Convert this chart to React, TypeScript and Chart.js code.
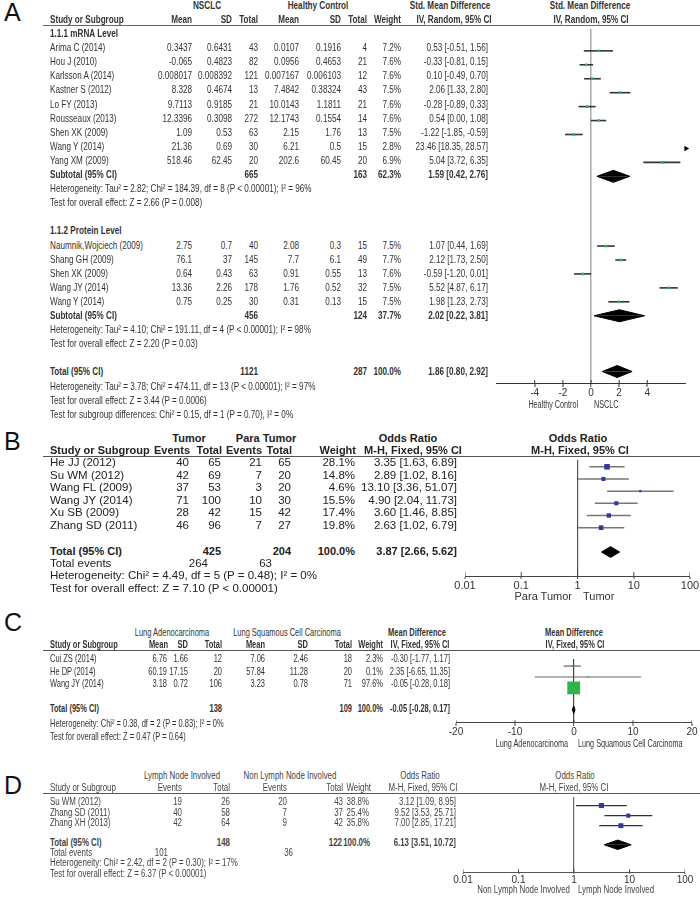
import React, { useEffect, useRef } from 'react';
import { Chart, registerables } from 'chart.js';

Chart.register(...registerables);

const FONT = '"Liberation Sans", Arial, Helvetica, sans-serif';

/* ================= Panel A data ================= */
const aMrnaStudy = ['Arima C (2014)', 'Hou J (2010)', 'Karlsson A (2014)', 'Kastner S (2012)', 'Lo FY (2013)', 'Rousseaux (2013)', 'Shen XK (2009)', 'Wang Y (2014)', 'Yang XM (2009)'];
const aMrnaCaseMean = ['0.3437', '-0.065', '0.008017', '8.328', '9.7113', '12.3396', '1.09', '21.36', '518.46'];
const aMrnaCaseSD = ['0.6431', '0.4823', '0.008392', '0.4674', '0.9185', '0.3098', '0.53', '0.69', '62.45'];
const aMrnaCaseN = [43, 82, 121, 13, 21, 272, 63, 30, 20];
const aMrnaCtrlMean = ['0.0107', '0.0956', '0.007167', '7.4842', '10.0143', '12.1743', '2.15', '6.21', '202.6'];
const aMrnaCtrlSD = ['0.1916', '0.4653', '0.006103', '0.38324', '1.1811', '0.1554', '1.76', '0.5', '60.45'];
const aMrnaCtrlN = [4, 21, 12, 43, 21, 14, 13, 15, 20];
const aMrnaWeight = [7.2, 7.6, 7.6, 7.5, 7.6, 7.6, 7.5, 2.8, 6.9];
const aMrnaSMD = [0.53, -0.33, 0.10, 2.06, -0.28, 0.54, -1.22, 23.46, 5.04];
const aMrnaLo = [-0.51, -0.81, -0.49, 1.33, -0.89, 0.00, -1.85, 18.35, 3.72];
const aMrnaHi = [1.56, 0.15, 0.70, 2.80, 0.33, 1.08, -0.59, 28.57, 6.35];

const aProtStudy = ['Naumnik,Wojciech (2009)', 'Shang GH (2009)', 'Shen XK (2009)', 'Wang JY (2014)', 'Wang Y (2014)'];
const aProtCaseMean = ['2.75', '76.1', '0.64', '13.36', '0.75'];
const aProtCaseSD = ['0.7', '37', '0.43', '2.26', '0.25'];
const aProtCaseN = [40, 145, 63, 178, 30];
const aProtCtrlMean = ['2.08', '7.7', '0.91', '1.76', '0.31'];
const aProtCtrlSD = ['0.3', '6.1', '0.55', '0.52', '0.13'];
const aProtCtrlN = [15, 49, 13, 32, 15];
const aProtWeight = [7.5, 7.7, 7.6, 7.5, 7.5];
const aProtSMD = [1.07, 2.12, -0.59, 5.52, 1.98];
const aProtLo = [0.44, 1.73, -1.20, 4.87, 1.23];
const aProtHi = [1.69, 2.50, 0.01, 6.17, 2.73];

const aSumLabel = ['Subtotal (95% CI)', 'Subtotal (95% CI)', 'Total (95% CI)'];
const aSumCaseN = [665, 456, 1121];
const aSumCtrlN = [163, 124, 287];
const aSumWeight = [62.3, 37.7, 100.0];
const aSumSMD = [1.59, 2.02, 1.86];
const aSumLo = [0.42, 0.22, 0.80];
const aSumHi = [2.76, 3.81, 2.92];
const aGroups = ['1.1.1 mRNA Level', '1.1.2 Protein Level'];
const aNotes = [
  'Heterogeneity: Tau² = 2.82; Chi² = 184.39, df = 8 (P < 0.00001); I² = 96%',
  'Test for overall effect: Z = 2.66 (P = 0.008)',
  'Heterogeneity: Tau² = 4.10; Chi² = 191.11, df = 4 (P < 0.00001); I² = 98%',
  'Test for overall effect: Z = 2.20 (P = 0.03)',
  'Heterogeneity: Tau² = 3.78; Chi² = 474.11, df = 13 (P < 0.00001); I² = 97%',
  'Test for overall effect: Z = 3.44 (P = 0.0006)',
  'Test for subgroup differences: Chi² = 0.15, df = 1 (P = 0.70), I² = 0%',
];
const aTickValues = [-4, -2, 0, 2, 4];
const aTickLabels = ['-4', '-2', '0', '2', '4'];

/* ================= Panel B data ================= */
const bStudy = ['He JJ (2012)', 'Su WM (2012)', 'Wang FL (2009)', 'Wang JY (2014)', 'Xu SB (2009)', 'Zhang SD (2011)'];
const bTumorEvents = [40, 42, 37, 71, 28, 46];
const bTumorTotal = [65, 69, 53, 100, 42, 96];
const bParaEvents = [21, 7, 3, 10, 15, 7];
const bParaTotal = [65, 20, 20, 30, 42, 27];
const bWeight = [28.1, 14.8, 4.6, 15.5, 17.4, 19.8];
const bOR = [3.35, 2.89, 13.10, 4.90, 3.60, 2.63];
const bLo = [1.63, 1.02, 3.36, 2.04, 1.46, 1.02];
const bHi = [6.89, 8.16, 51.07, 11.73, 8.85, 6.79];
const bTotalN = [425, 204];
const bTotalEvents = [264, 63];
const bPooledOR = [3.87];
const bPooledLo = [2.66];
const bPooledHi = [5.62];
const bNotes = ['Heterogeneity: Chi² = 4.49, df = 5 (P = 0.48); I² = 0%', 'Test for overall effect: Z = 7.10 (P < 0.00001)'];
const bTickValues = [0.01, 0.1, 1, 10, 100];
const bTickLabels = ['0.01', '0.1', '1', '10', '100'];

/* ================= Panel C data ================= */
const cStudy = ['Cui ZS (2014)', 'He DP (2014)', 'Wang JY (2014)'];
const cAdMean = ['6.76', '60.19', '3.18'];
const cAdSD = ['1.66', '17.15', '0.72'];
const cAdN = [12, 20, 106];
const cSqMean = ['7.06', '57.84', '3.23'];
const cSqSD = ['2.46', '11.28', '0.78'];
const cSqN = [18, 20, 71];
const cWeight = [2.3, 0.1, 97.6];
const cMD = [-0.30, 2.35, -0.05];
const cLo = [-1.77, -6.65, -0.28];
const cHi = [1.17, 11.35, 0.18];
const cTotalN = [138, 109];
const cPooledMD = [-0.05];
const cPooledLo = [-0.28];
const cPooledHi = [0.17];
const cNotes = ['Heterogeneity: Chi² = 0.38, df = 2 (P = 0.83); I² = 0%', 'Test for overall effect: Z = 0.47 (P = 0.64)'];
const cTickValues = [-20, -10, 0, 10, 20];
const cTickLabels = ['-20', '-10', '0', '10', '20'];

/* ================= Panel D data ================= */
const dStudy = ['Su WM (2012)', 'Zhang SD (2011)', 'Zhang XH (2013)'];
const dLnEvents = [19, 40, 42];
const dLnTotal = [26, 58, 64];
const dNonEvents = [20, 7, 9];
const dNonTotal = [43, 37, 42];
const dWeight = [38.8, 25.4, 35.8];
const dOR = [3.12, 9.52, 7.00];
const dLo = [1.09, 3.53, 2.85];
const dHi = [8.95, 25.71, 17.21];
const dTotalN = [148, 122];
const dTotalEvents = [101, 36];
const dPooledOR = [6.13];
const dPooledLo = [3.51];
const dPooledHi = [10.72];
const dNotes = ['Heterogeneity: Chi² = 2.42, df = 2 (P = 0.30); I² = 17%', 'Test for overall effect: Z = 6.37 (P < 0.00001)'];
const dTickValues = [0.01, 0.1, 1, 10, 100];
const dTickLabels = ['0.01', '0.1', '1', '10', '100'];

/* ================= helpers ================= */
const f2 = (v: number) => v.toFixed(2);
const ciText = (e: number, l: number, h: number) => `${f2(e)} [${f2(l)}, ${f2(h)}]`;
const pct = (w: number) => `${w.toFixed(1)}%`;

type Al = 'l' | 'r' | 'c';

function T({ x, y, t, al = 'l', s, k = 1, b = false, c = '#333' }: { x: number; y: number; t: string; al?: Al; s: number; k?: number; b?: boolean; c?: string }) {
  const tx = al === 'l' ? '0%' : al === 'r' ? '-100%' : '-50%';
  return (
    <div
      style={{
        position: 'absolute', left: x, top: y, fontFamily: FONT, fontSize: s, lineHeight: `${s}px`,
        fontWeight: b ? 700 : 400, color: c, whiteSpace: 'pre', transformOrigin: '0 0',
        transform: `scaleX(${k}) translate(${tx}, -50%)`, zIndex: 2,
      }}
    >
      {t}
    </div>
  );
}

function Rule({ y, color = '#555' }: { y: number; color?: string }) {
  return <div style={{ position: 'absolute', left: 43, top: y, width: 657, height: 1, background: color, zIndex: 2 }} />;
}

interface Lay { row0: number; pitch: number; rule: number; axis: number; plotL: number; plotR: number; padL: number; padR: number; axisH: number; }
interface Spec {
  lay: Lay;
  xType: 'linear' | 'logarithmic'; xMin: number; xMax: number;
  tickValues: number[]; tickLabels: string[]; refValue: number;
  rows: number[]; est: number[]; lo: number[]; hi: number[]; sizes: number[];
  sRows: number[]; sEst: number[]; sLo: number[]; sHi: number[]; dh: number;
  marker: string; ci: string; ciW: number; refC: string; refW: number; axisC: string;
  tickLen: number; tickIn: number; tickFont: number;
}

function buildConfig(sp: Spec): any {
  const L = sp.lay;
  const yMin = (L.rule - L.row0) / L.pitch;
  const yMax = (L.axis - L.row0) / L.pitch;
  const datasets: any[] = [];
  sp.rows.forEach((r, i) => {
    const a = Math.max(sp.lo[i], sp.xMin);
    const b = Math.min(sp.hi[i], sp.xMax);
    if (a < b) {
      datasets.push({ data: [{ x: a, y: r }, { x: b, y: r }], borderColor: sp.ci, borderWidth: sp.ciW, pointRadius: 0, fill: false, order: 3 });
    }
  });
  const inside = sp.rows.map((_, i) => i).filter((i) => sp.est[i] >= sp.xMin && sp.est[i] <= sp.xMax);
  datasets.push({
    data: inside.map((i) => ({ x: sp.est[i], y: sp.rows[i] })), showLine: false, pointStyle: 'rect',
    pointRadius: inside.map((i) => sp.sizes[i] / Math.SQRT2), pointBackgroundColor: sp.marker,
    pointBorderWidth: 0, order: 1,
  });
  const over = sp.rows.map((_, i) => i).filter((i) => sp.est[i] > sp.xMax);
  if (over.length) {
    datasets.push({
      data: over.map((i) => ({ x: sp.xMax, y: sp.rows[i] })), showLine: false, pointStyle: 'triangle', pointRotation: 90,
      pointRadius: 3.2, pointBackgroundColor: '#000', pointBorderWidth: 0, clip: false, order: 1,
    });
  }
  sp.sRows.forEach((r, i) => {
    [-1, 1].forEach((sg) => {
      datasets.push({
        data: [{ x: sp.sLo[i], y: r }, { x: sp.sEst[i], y: r + sg * sp.dh }, { x: sp.sHi[i], y: r }],
        borderColor: '#000', backgroundColor: '#000', borderWidth: 1, pointRadius: 0, fill: { value: r }, order: 2,
      });
    });
  });
  // short upward part of the axis tick marks (ticks cross the axis line)
  sp.tickValues.forEach((v) => {
    datasets.push({
      data: [{ x: v, y: yMax }, { x: v, y: yMax - sp.tickIn / L.pitch }],
      borderColor: sp.axisC, borderWidth: 1, pointRadius: 0, fill: false, order: 4,
    });
  });
  const isRef = (c: any) => c.tick && c.tick.value === sp.refValue;
  return {
    type: 'line',
    data: { datasets },
    options: {
      animation: false, responsive: false, maintainAspectRatio: false, devicePixelRatio: 1, events: [],
      layout: { padding: { left: L.padL, right: L.padR, top: 0, bottom: 0 } },
      plugins: { legend: { display: false }, tooltip: { enabled: false }, title: { display: false } },
      elements: { line: { tension: 0 } },
      scales: {
        x: {
          type: sp.xType, min: sp.xMin, max: sp.xMax, position: 'bottom',
          afterBuildTicks: (s: any) => { s.ticks = sp.tickValues.map((v) => ({ value: v })); },
          afterFit: (s: any) => { s.height = L.axisH; },
          ticks: {
            callback: (_v: any, i: number) => sp.tickLabels[i], autoSkip: false, maxRotation: 0, minRotation: 0,
            padding: 0, color: '#333', font: { family: 'Liberation Sans', size: sp.tickFont },
          },
          grid: {
            drawOnChartArea: true, drawTicks: true, tickLength: sp.tickLen,
            color: (c: any) => (isRef(c) ? sp.refC : 'rgba(0,0,0,0)'),
            lineWidth: (c: any) => (isRef(c) ? sp.refW : 0),
            tickColor: sp.axisC, tickWidth: 1,
          },
          border: { display: true, color: sp.axisC, width: 1 },
        },
        y: { type: 'linear', display: false, reverse: true, min: yMin, max: yMax },
      },
    },
  };
}

function ForestCanvas({ spec }: { spec: Spec }) {
  const ref = useRef<HTMLCanvasElement | null>(null);
  const L = spec.lay;
  const left = L.plotL - L.padL;
  const w = L.padL + (L.plotR - L.plotL) + L.padR;
  const h = L.axis - L.rule + L.axisH;
  useEffect(() => {
    if (!ref.current) return;
    const chart = new Chart(ref.current, buildConfig(spec));
    return () => chart.destroy();
  }, []);
  return <canvas ref={ref} width={w} height={h} style={{ position: 'absolute', left, top: L.rule, width: w, height: h, zIndex: 1 }} />;
}

const sizeOf = (w: number[], c: number, minSide: number) => w.map((v) => Math.max(minSide, c * Math.sqrt(v)));

/* ================= Panel A ================= */
const LAY_A: Lay = { row0: 33, pitch: 14.1, rule: 25, axis: 383, plotL: 496, plotR: 686, padL: 56, padR: 34, axisH: 25 };

function PanelA() {
  const L = LAY_A;
  const S = 11, K = 0.74, C = '#333';
  const y = (slot: number) => L.row0 + slot * L.pitch;
  const els: any[] = [];
  let key = 0;
  const put = (x: number, yy: number, t: string, al: Al = 'l', b = false, s = S, k = K, c = C) =>
    els.push(<T key={key++} x={x} y={yy} t={t} al={al} b={b} s={s} k={k} c={c} />);
  const h1 = 5, h2 = 18.8;
  put(207, h1, 'NSCLC', 'c', true); put(318, h1, 'Healthy Control', 'c', true);
  put(450, h1, 'Std. Mean Difference', 'c', true); put(590, h1, 'Std. Mean Difference', 'c', true);
  put(50, h2, 'Study or Subgroup', 'l', true); put(192, h2, 'Mean', 'r', true); put(232, h2, 'SD', 'r', true);
  put(258, h2, 'Total', 'r', true); put(299, h2, 'Mean', 'r', true); put(341, h2, 'SD', 'r', true);
  put(367, h2, 'Total', 'r', true); put(401, h2, 'Weight', 'r', true);
  put(454, h2, 'IV, Random, 95% CI', 'c', true); put(591, h2, 'IV, Random, 95% CI', 'c', true);

  const studyRow = (yy: number, n: string, cm: string, csd: string, cn: number, km: string, ksd: string, kn: number, w: number, e: number, l: number, hh: number) => {
    put(50, yy, n); put(192, yy, cm, 'r'); put(232, yy, csd, 'r'); put(258, yy, String(cn), 'r');
    put(299, yy, km, 'r'); put(341, yy, ksd, 'r'); put(367, yy, String(kn), 'r');
    put(401, yy, pct(w), 'r'); put(488, yy, ciText(e, l, hh), 'r');
  };
  const sumRow = (yy: number, i: number) => {
    put(50, yy, aSumLabel[i], 'l', true); put(258, yy, String(aSumCaseN[i]), 'r', true);
    put(367, yy, String(aSumCtrlN[i]), 'r', true); put(401, yy, pct(aSumWeight[i]), 'r', true);
    put(488, yy, ciText(aSumSMD[i], aSumLo[i], aSumHi[i]), 'r', true);
  };
  const mrnaRows = aMrnaStudy.map((_, i) => 1 + i);
  const protRows = aProtStudy.map((_, i) => 15 + i);
  const sumRows = [10, 20, 24];
  put(50, y(0), aGroups[0], 'l', true);
  aMrnaStudy.forEach((n, i) => studyRow(y(mrnaRows[i]), n, aMrnaCaseMean[i], aMrnaCaseSD[i], aMrnaCaseN[i], aMrnaCtrlMean[i], aMrnaCtrlSD[i], aMrnaCtrlN[i], aMrnaWeight[i], aMrnaSMD[i], aMrnaLo[i], aMrnaHi[i]));
  sumRow(y(10), 0);
  put(50, y(11), aNotes[0]); put(50, y(12), aNotes[1]);
  put(50, y(14), aGroups[1], 'l', true);
  aProtStudy.forEach((n, i) => studyRow(y(protRows[i]), n, aProtCaseMean[i], aProtCaseSD[i], aProtCaseN[i], aProtCtrlMean[i], aProtCtrlSD[i], aProtCtrlN[i], aProtWeight[i], aProtSMD[i], aProtLo[i], aProtHi[i]));
  sumRow(y(20), 1);
  put(50, y(21), aNotes[2]); put(50, y(22), aNotes[3]);
  sumRow(y(24), 2);
  put(50, y(25), aNotes[4]); put(50, y(26), aNotes[5]); put(50, y(27), aNotes[6]);
  put(578, 405, 'Healthy Control', 'r', false, 10, 0.72); put(594, 405, 'NSCLC', 'l', false, 10, 0.72);

  const spec: Spec = {
    lay: L, xType: 'linear', xMin: -6.75, xMax: 6.75, tickValues: aTickValues, tickLabels: aTickLabels, refValue: 0,
    rows: [...mrnaRows, ...protRows], est: [...aMrnaSMD, ...aProtSMD], lo: [...aMrnaLo, ...aProtLo], hi: [...aMrnaHi, ...aProtHi],
    sizes: sizeOf([...aMrnaWeight, ...aProtWeight], 0.95, 1.6),
    sRows: sumRows, sEst: aSumSMD, sLo: aSumLo, sHi: aSumHi, dh: 0.43,
    marker: '#2db84a', ci: '#333', ciW: 1.6, refC: '#a8a8a8', refW: 1.5, axisC: '#333', tickLen: 4, tickIn: 3, tickFont: 10,
  };
  return (
    <>
      <ForestCanvas spec={spec} />
      <T x={4} y={12} t="A" s={25} c="#111" />
      <Rule y={L.rule} color="#666" />
      {els}
    </>
  );
}

/* ================= Panel B ================= */
const LAY_B: Lay = { row0: 463, pitch: 12.6, rule: 456, axis: 576, plotL: 465, plotR: 690, padL: 45, padR: 30, axisH: 25 };

function PanelB() {
  const L = LAY_B;
  const S = 11.5, K = 1, C = '#222';
  const y = (slot: number) => L.row0 + slot * L.pitch;
  const els: any[] = [];
  let key = 0;
  const put = (x: number, yy: number, t: string, al: Al = 'l', b = false, s = S, k = K, c = C) =>
    els.push(<T key={key++} x={x} y={yy} t={t} al={al} b={b} s={s} k={k} c={c} />);
  const h1 = 437.8, h2 = 450.4, HS = 11;
  put(189, h1, 'Tumor', 'c', true, HS); put(266, h1, 'Para Tumor', 'c', true, HS);
  put(408, h1, 'Odds Ratio', 'c', true, HS); put(578, h1, 'Odds Ratio', 'c', true, HS);
  put(50, h2, 'Study or Subgroup', 'l', true, HS); put(190, h2, 'Events', 'r', true, HS); put(222, h2, 'Total', 'r', true, HS);
  put(262, h2, 'Events', 'r', true, HS); put(292, h2, 'Total', 'r', true, HS); put(356, h2, 'Weight', 'r', true, HS);
  put(413, h2, 'M-H, Fixed, 95% CI', 'c', true, HS); put(580, h2, 'M-H, Fixed, 95% CI', 'c', true, HS);
  const rows = bStudy.map((_, i) => i);
  bStudy.forEach((n, i) => {
    const yy = y(rows[i]);
    put(50, yy, n); put(189, yy, String(bTumorEvents[i]), 'r'); put(221, yy, String(bTumorTotal[i]), 'r');
    put(262, yy, String(bParaEvents[i]), 'r'); put(291, yy, String(bParaTotal[i]), 'r');
    put(355, yy, pct(bWeight[i]), 'r'); put(457, yy, ciText(bOR[i], bLo[i], bHi[i]), 'r');
  });
  const tot = 7;
  put(50, y(tot), 'Total (95% CI)', 'l', true, HS); put(221, y(tot), String(bTotalN[0]), 'r', true, HS);
  put(291, y(tot), String(bTotalN[1]), 'r', true, HS); put(355, y(tot), pct(100), 'r', true, HS);
  put(457, y(tot), ciText(bPooledOR[0], bPooledLo[0], bPooledHi[0]), 'r', true, HS);
  put(50, y(8), 'Total events'); put(208, y(8), String(bTotalEvents[0]), 'r'); put(272, y(8), String(bTotalEvents[1]), 'r');
  put(50, y(9), bNotes[0]); put(50, y(10), bNotes[1]);
  put(572, 596, 'Para Tumor', 'r', false, 11, 1, '#333'); put(583, 596, 'Tumor', 'l', false, 11, 1, '#333');

  const spec: Spec = {
    lay: L, xType: 'logarithmic', xMin: 0.01, xMax: 100, tickValues: bTickValues, tickLabels: bTickLabels, refValue: 1,
    rows, est: bOR, lo: bLo, hi: bHi, sizes: sizeOf(bWeight, 1.05, 2),
    sRows: [tot], sEst: bPooledOR, sLo: bPooledLo, sHi: bPooledHi, dh: 0.44,
    marker: '#2f3b9a', ci: '#777', ciW: 1.5, refC: '#555', refW: 1.2, axisC: '#444', tickLen: 3, tickIn: 4, tickFont: 11,
  };
  return (
    <>
      <ForestCanvas spec={spec} />
      <T x={4} y={441} t="B" s={25} c="#111" />
      <Rule y={L.rule} color="#555" />
      {els}
    </>
  );
}

/* ================= Panel C ================= */
const LAY_C: Lay = { row0: 658, pitch: 12.5, rule: 650, axis: 722, plotL: 456, plotR: 692, padL: 36, padR: 28, axisH: 25 };

function PanelC() {
  const L = LAY_C;
  const S = 11, K = 0.68, C = '#333';
  const y = (slot: number) => L.row0 + slot * L.pitch;
  const els: any[] = [];
  let key = 0;
  const put = (x: number, yy: number, t: string, al: Al = 'l', b = false, s = S, k = K, c = C) =>
    els.push(<T key={key++} x={x} y={yy} t={t} al={al} b={b} s={s} k={k} c={c} />);
  const h1 = 632, h2 = 643.5;
  put(172, h1, 'Lung Adenocarcinoma', 'c'); put(287, h1, 'Lung Squamous Cell Carcinoma', 'c');
  put(417, h1, 'Mean Difference', 'c', true); put(574, h1, 'Mean Difference', 'c', true);
  put(50, h2, 'Study or Subgroup', 'l', true); put(168, h2, 'Mean', 'r', true); put(188, h2, 'SD', 'r', true);
  put(222, h2, 'Total', 'r', true); put(265, h2, 'Mean', 'r', true); put(308, h2, 'SD', 'r', true);
  put(352, h2, 'Total', 'r', true); put(383, h2, 'Weight', 'r', true);
  put(420, h2, 'IV, Fixed, 95% CI', 'c', true); put(575, h2, 'IV, Fixed, 95% CI', 'c', true);
  const rows = cStudy.map((_, i) => i);
  cStudy.forEach((n, i) => {
    const yy = y(rows[i]);
    put(50, yy, n); put(167, yy, cAdMean[i], 'r'); put(188, yy, cAdSD[i], 'r'); put(222, yy, String(cAdN[i]), 'r');
    put(265, yy, cSqMean[i], 'r'); put(308, yy, cSqSD[i], 'r'); put(352, yy, String(cSqN[i]), 'r');
    put(383, yy, pct(cWeight[i]), 'r'); put(450, yy, ciText(cMD[i], cLo[i], cHi[i]), 'r');
  });
  const tot = 4;
  put(50, y(tot), 'Total (95% CI)', 'l', true); put(222, y(tot), String(cTotalN[0]), 'r', true);
  put(352, y(tot), String(cTotalN[1]), 'r', true); put(383, y(tot), pct(100), 'r', true);
  put(450, y(tot), ciText(cPooledMD[0], cPooledLo[0], cPooledHi[0]), 'r', true);
  put(50, y(5.2), cNotes[0]); put(50, y(6.2), cNotes[1]);
  put(568, 743, 'Lung Adenocarcinoma', 'r', false, 11, 0.66); put(578, 743, 'Lung Squamous Cell Carcinoma', 'l', false, 11, 0.66);

  const spec: Spec = {
    lay: L, xType: 'linear', xMin: -20, xMax: 20, tickValues: cTickValues, tickLabels: cTickLabels, refValue: 0,
    rows, est: cMD, lo: cLo, hi: cHi, sizes: sizeOf(cWeight, 1.3, 1.6),
    sRows: [tot], sEst: cPooledMD, sLo: cPooledLo, sHi: cPooledHi, dh: 0.34,
    marker: '#2fb34a', ci: '#666', ciW: 1.2, refC: '#444', refW: 1.2, axisC: '#444', tickLen: 4, tickIn: 2, tickFont: 10,
  };
  return (
    <>
      <ForestCanvas spec={spec} />
      <T x={4} y={622} t="C" s={25} c="#111" />
      <Rule y={L.rule} color="#555" />
      {els}
    </>
  );
}

/* ================= Panel D ================= */
const LAY_D: Lay = { row0: 802, pitch: 10.6, rule: 793, axis: 872, plotL: 463, plotR: 685, padL: 43, padR: 30, axisH: 22 };

function PanelD() {
  const L = LAY_D;
  const S = 10, K = 0.79, C = '#444';
  const y = (slot: number) => L.row0 + slot * L.pitch;
  const els: any[] = [];
  let key = 0;
  const put = (x: number, yy: number, t: string, al: Al = 'l', b = false, s = S, k = K, c = C) =>
    els.push(<T key={key++} x={x} y={yy} t={t} al={al} b={b} s={s} k={k} c={c} />);
  const h1 = 776, h2 = 787.5;
  put(182, h1, 'Lymph Node Involved', 'c'); put(290, h1, 'Non Lymph Node Involved', 'c');
  put(420, h1, 'Odds Ratio', 'c'); put(575, h1, 'Odds Ratio', 'c');
  put(50, h2, 'Study or Subgroup'); put(182, h2, 'Events', 'r'); put(230, h2, 'Total', 'r');
  put(287, h2, 'Events', 'r'); put(343, h2, 'Total', 'r'); put(371, h2, 'Weight', 'r');
  put(423, h2, 'M-H, Fixed, 95% CI', 'c'); put(574, h2, 'M-H, Fixed, 95% CI', 'c');
  const rows = dStudy.map((_, i) => i);
  dStudy.forEach((n, i) => {
    const yy = y(rows[i]);
    put(50, yy, n); put(182, yy, String(dLnEvents[i]), 'r'); put(230, yy, String(dLnTotal[i]), 'r');
    put(287, yy, String(dNonEvents[i]), 'r'); put(343, yy, String(dNonTotal[i]), 'r');
    put(369, yy, pct(dWeight[i]), 'r'); put(456, yy, ciText(dOR[i], dLo[i], dHi[i]), 'r');
  });
  const tot = 3.9;
  put(50, y(tot), 'Total (95% CI)', 'l', true); put(230, y(tot), String(dTotalN[0]), 'r', true);
  put(342, y(tot), String(dTotalN[1]), 'r', true); put(370, y(tot), pct(100), 'r', true);
  put(456, y(tot), ciText(dPooledOR[0], dPooledLo[0], dPooledHi[0]), 'r', true);
  put(50, y(4.85), 'Total events'); put(168, y(4.85), String(dTotalEvents[0]), 'r'); put(293, y(4.85), String(dTotalEvents[1]), 'r');
  put(50, y(5.8), dNotes[0]); put(50, y(6.75), dNotes[1]);
  put(570, 890, 'Non Lymph Node Involved', 'r'); put(578, 890, 'Lymph Node Involved', 'l');

  const spec: Spec = {
    lay: L, xType: 'logarithmic', xMin: 0.01, xMax: 100, tickValues: dTickValues, tickLabels: dTickLabels, refValue: 1,
    rows, est: dOR, lo: dLo, hi: dHi, sizes: sizeOf(dWeight, 0.82, 2),
    sRows: [tot], sEst: dPooledOR, sLo: dPooledLo, sHi: dPooledHi, dh: 0.47,
    marker: '#2f3b9a', ci: '#2a2f55', ciW: 1.2, refC: '#666', refW: 1.2, axisC: '#555', tickLen: 2, tickIn: 3, tickFont: 10,
  };
  return (
    <>
      <ForestCanvas spec={spec} />
      <T x={4} y={785} t="D" s={25} c="#111" />
      <Rule y={L.rule} color="#555" />
      {els}
    </>
  );
}

export default function App() {
  return (
    <div style={{ position: 'absolute', left: 0, top: 0, width: 700, height: 903, overflow: 'hidden', background: '#fff' }}>
      <PanelA />
      <PanelB />
      <PanelC />
      <PanelD />
    </div>
  );
}
